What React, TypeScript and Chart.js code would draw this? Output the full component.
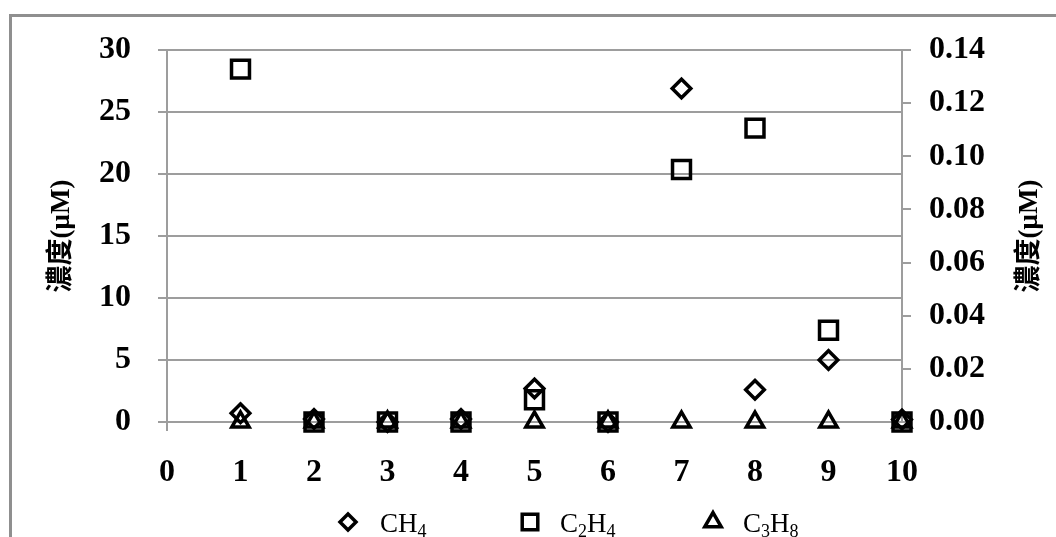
import React, { useEffect, useRef } from "react";
import { Chart, registerables } from "chart.js";
import { drawPoint } from "chart.js/helpers";

Chart.register(...registerables);

// ---- data ----
const sampleX = [1, 2, 3, 4, 5, 6, 7, 8, 9, 10];
const ch4Values = [0.7, 0.25, 0, 0.25, 2.7, 0, 26.9, 2.6, 5.0, 0.2]; // left axis
const c2h4Values = [0.1328, 0, 0, 0, 0.0084, 0, 0.095, 0.1106, 0.0345, 0]; // right axis
const c3h8Values = [0, 0, 0, 0, 0, 0, 0, 0, 0, 0]; // left axis
const seriesLabels = ["CH4", "C2H4", "C3H8"];
const axisTitle = "濃度(μM)";
const xRange = [0, 10];
const leftRange = [0, 30];
const rightRange = [0, 0.14];

// ---- styling ----
const GRID = "#9d9d9d";
const SERIF = '"Liberation Serif", "Times New Roman", serif';
const TITLE_FAMILY = '"Liberation Serif", "Noto Sans CJK TC", serif';
const tickFont = { family: SERIF, size: 32, weight: "bold" as const };

const legendMarkerX = [348, 530, 713];
const legendTextX = [380, 560, 743];
const legendMarkerY = 522;
const legendBaseline = 532;
const legendRadius = [8, 11, 9.5];

function drawFormula(ctx: CanvasRenderingContext2D, text: string, x: number, baseline: number) {
  let cx = x;
  ctx.textAlign = "left";
  ctx.textBaseline = "alphabetic";
  ctx.fillStyle = "#000";
  for (const ch of text) {
    const sub = /\d/.test(ch);
    ctx.font = sub ? `18px ${SERIF}` : `27px ${SERIF}`;
    ctx.fillText(ch, cx, baseline + (sub ? 5 : 0));
    cx += ctx.measureText(ch).width;
  }
}

const formulaLegend = {
  id: "formulaLegend",
  afterDraw(chart: any) {
    const ctx: CanvasRenderingContext2D = chart.ctx;
    chart.data.datasets.forEach((ds: any, i: number) => {
      ctx.save();
      ctx.strokeStyle = "#000";
      ctx.fillStyle = "rgba(0,0,0,0)";
      ctx.lineWidth = 3.5;
      drawPoint(ctx, { pointStyle: ds.pointStyle, radius: legendRadius[i], rotation: 0, borderWidth: 3.5 } as any, legendMarkerX[i], legendMarkerY);
      ctx.restore();
      ctx.save();
      drawFormula(ctx, ds.label, legendTextX[i], legendBaseline);
      ctx.restore();
    });
  },
};

const rightTitle = {
  id: "rightTitle",
  afterDraw(chart: any) {
    const ctx: CanvasRenderingContext2D = chart.ctx;
    const s = chart.scales.y1;
    const { top, bottom } = chart.chartArea;
    ctx.save();
    ctx.translate(s.right - 26, (top + bottom) / 2);
    ctx.rotate(-Math.PI / 2);
    ctx.textAlign = "center";
    ctx.textBaseline = "middle";
    ctx.fillStyle = "#000";
    ctx.font = `bold 27px ${TITLE_FAMILY}`;
    ctx.fillText(axisTitle, 0, 0);
    ctx.restore();
  },
};

export default function App() {
  const canvasRef = useRef<HTMLCanvasElement | null>(null);

  useEffect(() => {
    if (!canvasRef.current) return;
    const mk = (vals: number[]) => sampleX.map((x, i) => ({ x, y: vals[i] }));
    const common = {
      showLine: false,
      borderColor: "#000",
      backgroundColor: "rgba(0,0,0,0)",
      borderWidth: 3.5,
      clip: false as any,
    };
    const chart = new Chart(canvasRef.current, {
      type: "scatter",
      data: {
        datasets: [
          { ...common, label: seriesLabels[0], data: mk(ch4Values), yAxisID: "y", pointStyle: "rectRot", pointRadius: 9.3, pointHoverRadius: 9.3 },
          { ...common, label: seriesLabels[1], data: mk(c2h4Values), yAxisID: "y1", pointStyle: "rect", pointRadius: 12.7, pointHoverRadius: 12.7 },
          { ...common, label: seriesLabels[2], data: mk(c3h8Values), yAxisID: "y", pointStyle: "triangle", pointRadius: 10, pointHoverRadius: 10 },
        ],
      },
      options: {
        responsive: false,
        animation: false,
        layout: { padding: { top: 50, bottom: 55, left: 0, right: 0 } },
        plugins: { legend: { display: false }, tooltip: { enabled: false } },
        scales: {
          x: {
            type: "linear",
            position: "bottom",
            min: xRange[0],
            max: xRange[1],
            ticks: { stepSize: 1, padding: 23, font: tickFont, color: "#000" },
            grid: {
              drawOnChartArea: false,
              tickLength: 9,
              lineWidth: 2,
              color: (c: any) => (c.tick && c.tick.value === 0 ? GRID : "rgba(0,0,0,0)"),
            },
            border: { display: false },
            afterFit: (s: any) => { s.height = 60; },
          },
          y: {
            position: "left",
            min: leftRange[0],
            max: leftRange[1],
            ticks: { stepSize: 5, padding: 27, font: tickFont, color: "#000" },
            grid: { color: GRID, lineWidth: 2, tickLength: 9 },
            border: { display: true, color: GRID, width: 2 },
            title: {
              display: true,
              text: axisTitle,
              color: "#000",
              font: { family: TITLE_FAMILY, size: 27, weight: "bold" },
              padding: { top: 46, bottom: 0 },
            },
            afterFit: (s: any) => { s.width = 167; },
          },
          y1: {
            position: "right",
            min: rightRange[0],
            max: rightRange[1],
            ticks: {
              stepSize: 0.02,
              padding: 18,
              font: tickFont,
              color: "#000",
              callback: (v: any) => Number(v).toFixed(2),
            },
            grid: { drawOnChartArea: false, color: GRID, lineWidth: 2, tickLength: 9 },
            border: { display: true, color: GRID, width: 2 },
            afterFit: (s: any) => { s.width = 154; },
          },
        },
      },
      plugins: [formulaLegend, rightTitle],
    });
    return () => chart.destroy();
  }, []);

  return (
    <div style={{ position: "fixed", left: 0, top: 0, width: 1056, height: 537, overflow: "hidden", background: "#fff" }}>
      <div style={{ position: "absolute", left: 9, top: 14, width: 1200, height: 700, border: "3px solid #8f8f8f", boxSizing: "border-box" }} />
      <canvas ref={canvasRef} width={1056} height={537} style={{ position: "absolute", left: 0, top: 0, width: 1056, height: 537 }} />
    </div>
  );
}
